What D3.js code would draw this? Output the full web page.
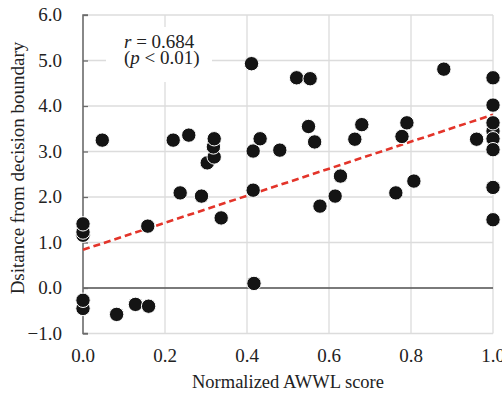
<!DOCTYPE html>
<html>
<head>
<meta charset="utf-8">
<script src="https://cdn.jsdelivr.net/npm/d3@7"></script>
<style>
  body { margin: 0; background: #fff; }
</style>
</head>
<body>
<div id="chart"></div>
<script>
// scores (x) and distance from decision boundary (y)
const scoreX = [0.0, 0.0, 0.0, 0.0, 0.0, 0.047, 0.082, 0.128, 0.16, 0.158,
    0.22, 0.237, 0.258, 0.289, 0.303, 0.32, 0.318, 0.32, 0.337, 0.411,
    0.415, 0.415, 0.417, 0.432, 0.48, 0.521, 0.55, 0.554, 0.565, 0.578,
    0.615, 0.628, 0.663, 0.68, 0.763, 0.778, 0.79, 0.807, 0.88, 0.96,
    1.0, 1.0, 1.0, 1.0, 1.0, 1.0, 1.0, 1.0];
const distY = [1.16, 1.23, 1.41, -0.45, -0.27, 3.25, -0.58, -0.36, -0.40, 1.36,
    3.25, 2.09, 3.36, 2.02, 2.75, 2.88, 3.10, 3.28, 1.54, 4.93,
    3.01, 2.15, 0.10, 3.28, 3.03, 4.62, 3.55, 4.60, 3.21, 1.80,
    2.02, 2.46, 3.27, 3.59, 2.09, 3.33, 3.63, 2.35, 4.81, 3.27,
    3.45, 4.62, 4.02, 3.63, 3.28, 3.04, 2.21, 1.50];

// fitted line as drawn (intercept, value at x = 1)
const trendX = [0, 1];
const trendY = [0.84, 3.81];

const xTicks = [0, 0.2, 0.4, 0.6, 0.8, 1.0];
const yTicks = [-1, 0, 1, 2, 3, 4, 5, 6];

const width = 502, height = 394;
const margin = { top: 15, right: 9, bottom: 60.5, left: 83 };
const serif = "'Liberation Serif', 'Times New Roman', Times, serif";

const svg = d3.select("#chart").append("svg")
    .attr("width", width)
    .attr("height", height)
    .attr("font-family", serif);

svg.append("rect").attr("width", width).attr("height", height).attr("fill", "#fff");

const x = d3.scaleLinear().domain([0, 1]).range([margin.left, width - margin.right]);
const y = d3.scaleLinear().domain([-1, 6]).range([height - margin.bottom, margin.top]);

// grid
svg.append("g").selectAll("line")
    .data(yTicks)
    .enter().append("line")
    .attr("x1", x(0)).attr("x2", x(1))
    .attr("y1", d => y(d)).attr("y2", d => y(d))
    .attr("stroke", "#dcdcdc").attr("stroke-width", 1.3);

svg.append("g").selectAll("line")
    .data(xTicks.slice(1))
    .enter().append("line")
    .attr("x1", d => x(d)).attr("x2", d => x(d))
    .attr("y1", y(6)).attr("y2", y(-1))
    .attr("stroke", "#dcdcdc").attr("stroke-width", 1.3);

// white box behind the annotation
svg.append("rect")
    .attr("x", 106).attr("y", 27)
    .attr("width", 106).attr("height", 55)
    .attr("fill", "#fff");

// zero line
svg.append("line")
    .attr("x1", x(0)).attr("x2", x(1))
    .attr("y1", y(0)).attr("y2", y(0))
    .attr("stroke", "#111").attr("stroke-width", 1.1);

// left axis with inward ticks
const yAxis = d3.axisRight(y).tickValues(yTicks).tickSize(5).tickFormat("");
const gy = svg.append("g")
    .attr("transform", `translate(${x(0)},0)`)
    .call(yAxis);
gy.select(".domain").attr("d", `M5,${y(6)}H0V${y(-1)}H5`)
    .attr("stroke", "#6b6b6b").attr("stroke-width", 1.6).attr("fill", "none");
gy.selectAll(".tick line").attr("stroke", "#6b6b6b").attr("stroke-width", 1.3);

const label = sel => sel.attr("font-family", serif).attr("fill", "#222");

// tick labels
svg.append("g").selectAll("text")
    .data(yTicks)
    .enter().append("text")
    .call(label)
    .attr("x", 62)
    .attr("y", d => y(d) + 6)
    .attr("text-anchor", "end")
    .attr("font-size", 19)
    .text(d => d3.format(".1f")(d));

svg.append("g").selectAll("text")
    .data(xTicks)
    .enter().append("text")
    .call(label)
    .attr("x", d => x(d))
    .attr("y", 362)
    .attr("text-anchor", "middle")
    .attr("font-size", 19)
    .text(d => d3.format(".1f")(d));

// axis titles
svg.append("text")
    .call(label)
    .attr("x", (x(0) + x(1)) / 2)
    .attr("y", 388)
    .attr("text-anchor", "middle")
    .attr("font-size", 18.5)
    .text("Normalized AWWL score");

svg.append("text")
    .call(label)
    .attr("transform", "translate(24,168) rotate(-90)")
    .attr("text-anchor", "middle")
    .attr("font-size", 19)
    .text("Dsitance from decision boundary");

// trend line
const line = d3.line().x(d => x(d[0])).y(d => y(d[1]));
svg.append("path")
    .datum(d3.zip(trendX, trendY))
    .attr("d", line)
    .attr("fill", "none")
    .attr("stroke", "#e3342a")
    .attr("stroke-width", 2.6)
    .attr("stroke-dasharray", "7,4");

// points
svg.append("g").selectAll("circle")
    .data(d3.zip(scoreX, distY))
    .enter().append("circle")
    .attr("cx", d => x(d[0]))
    .attr("cy", d => y(d[1]))
    .attr("r", 7.2)
    .attr("fill", "#141414")
    .attr("stroke", "#fff")
    .attr("stroke-width", 1);

// annotation: one text per line, italic letter as a tspan
const t1 = svg.append("text").call(label)
    .attr("x", 124).attr("y", 47.5).attr("font-size", 19);
t1.append("tspan").attr("font-style", "italic").text("r");
t1.append("tspan").text(" = 0.684");
const t2 = svg.append("text").call(label)
    .attr("x", 124).attr("y", 64).attr("font-size", 19);
t2.append("tspan").text("(");
t2.append("tspan").attr("font-style", "italic").text("p");
t2.append("tspan").text(" < 0.01)");
</script>
</body>
</html>
